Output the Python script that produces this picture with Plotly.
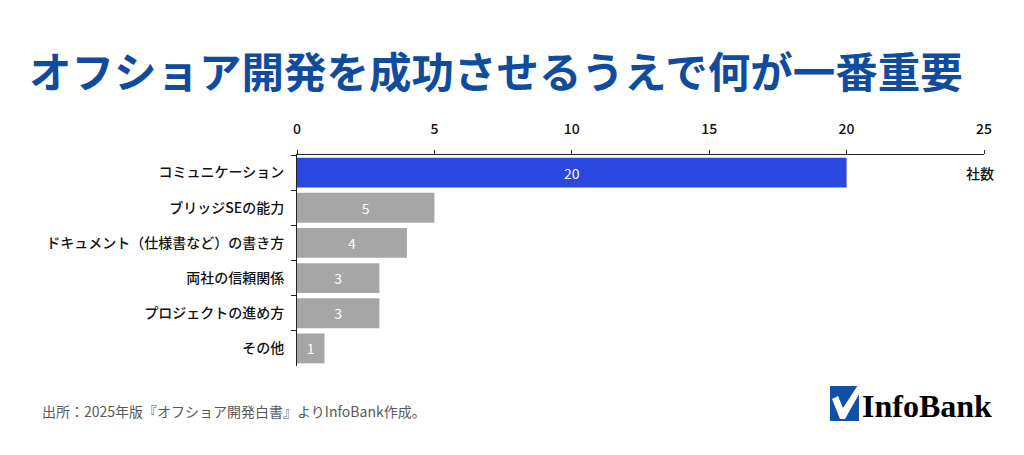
import plotly.graph_objects as go

# data
categories = [
    "コミュニケーション",
    "ブリッジSEの能力",
    "ドキュメント（仕様書など）の書き方",
    "両社の信頼関係",
    "プロジェクトの進め方",
    "その他",
]
counts = [20, 5, 4, 3, 3, 1]
x_ticks = [0, 5, 10, 15, 20, 25]

title_text = "オフショア開発を成功させるうえで何が一番重要"
source_text = "出所：2025年版『オフショア開発白書』よりInfoBank作成。"
unit_label = "社数"

W, H = 1024, 455
OFF = 8  # page body margin
L, R, T, B = 297 - OFF, 48, 155 - OFF, 97
JP = "Noto Sans CJK JP"

BLUE = "#2a48de"
GRAY = "#a6a6a6"
bar_colors = [BLUE] + [GRAY] * (len(counts) - 1)


def px(x, y):
    """screen pixel position -> paper coordinates"""
    pw, ph = W - L - R, H - T - B
    return (x - OFF - L) / pw, 1 - (y - OFF - T) / ph


fig = go.Figure()
fig.add_trace(
    go.Bar(
        x=counts, y=categories, orientation="h",
        marker=dict(color=bar_colors, line=dict(width=0)),
        text=[str(c) for c in counts],
        textposition="inside", insidetextanchor="middle",
        textfont=dict(family=JP, size=14, color="white"),
        constraintext="none",
        hoverinfo="skip",
    )
)

annotations = []
tx, ty = px(27, 70)
annotations.append(dict(
    text=f"<b>{title_text}</b>", xref="paper", yref="paper", x=tx, y=ty,
    xanchor="left", yanchor="middle", showarrow=False,
    font=dict(family=JP, size=42.5, color="#0f4c9e"),
))
sx, sy = px(40, 411)
annotations.append(dict(
    text=source_text, xref="paper", yref="paper", x=sx, y=sy,
    xanchor="left", yanchor="middle", showarrow=False,
    font=dict(family=JP, size=14, color="#595959"),
))
annotations.append(dict(
    text=unit_label, xref="x", yref="y", x=25, y=categories[0],
    xanchor="right", yanchor="middle", showarrow=False, xshift=12,
    font=dict(family=JP, size=14, color="#111111", weight=500),
))
lx, ly = px(860, 406)
annotations.append(dict(
    text="<b>InfoBank</b>", xref="paper", yref="paper", x=lx, y=ly,
    xanchor="left", yanchor="middle", showarrow=False,
    font=dict(family="Liberation Serif", size=32, color="black"),
))

# logo: blue square with white check mark
x0, y0 = px(830, 386)
x1, y1 = px(859, 421)
shapes = [dict(type="rect", xref="paper", yref="paper", x0=x0, y0=y1, x1=x1, y1=y0,
               fillcolor="#1150a8", line=dict(width=0), layer="above")]
pts = [(832, 399), (838, 396), (843, 408), (858, 385), (863, 387), (845, 419), (840, 419)]
path = "M " + " L ".join(f"{px(a, b)[0]},{px(a, b)[1]}" for a, b in pts) + " Z"
shapes.append(dict(type="path", xref="paper", yref="paper", path=path,
                   fillcolor="white", line=dict(width=0), layer="above"))

fig.update_layout(
    width=W, height=H,
    margin=dict(l=L, r=R, t=T, b=B),
    paper_bgcolor="white", plot_bgcolor="white",
    showlegend=False,
    bargap=0.15,
    font=dict(family=JP, size=14, color="#111111"),
    xaxis=dict(
        side="top", range=[0, 25], tickvals=x_ticks,
        showgrid=False, zeroline=False,
        showline=True, linecolor="#222222", linewidth=1,
        ticks="outside", ticklen=4, tickcolor="#222222",
        tickfont=dict(family=JP, size=14, color="#111111", weight=500),
        ticklabelstandoff=10,
    ),
    yaxis=dict(
        autorange="reversed", showgrid=False, zeroline=False,
        showline=True, linecolor="#222222", linewidth=1,
        ticks="outside", ticklen=5, tickcolor="#222222", tickson="boundaries",
        tickfont=dict(family=JP, size=14, color="#111111", weight=500),
        ticklabelstandoff=9,
    ),
    annotations=annotations,
    shapes=shapes,
)

fig.write_html("out.html")
